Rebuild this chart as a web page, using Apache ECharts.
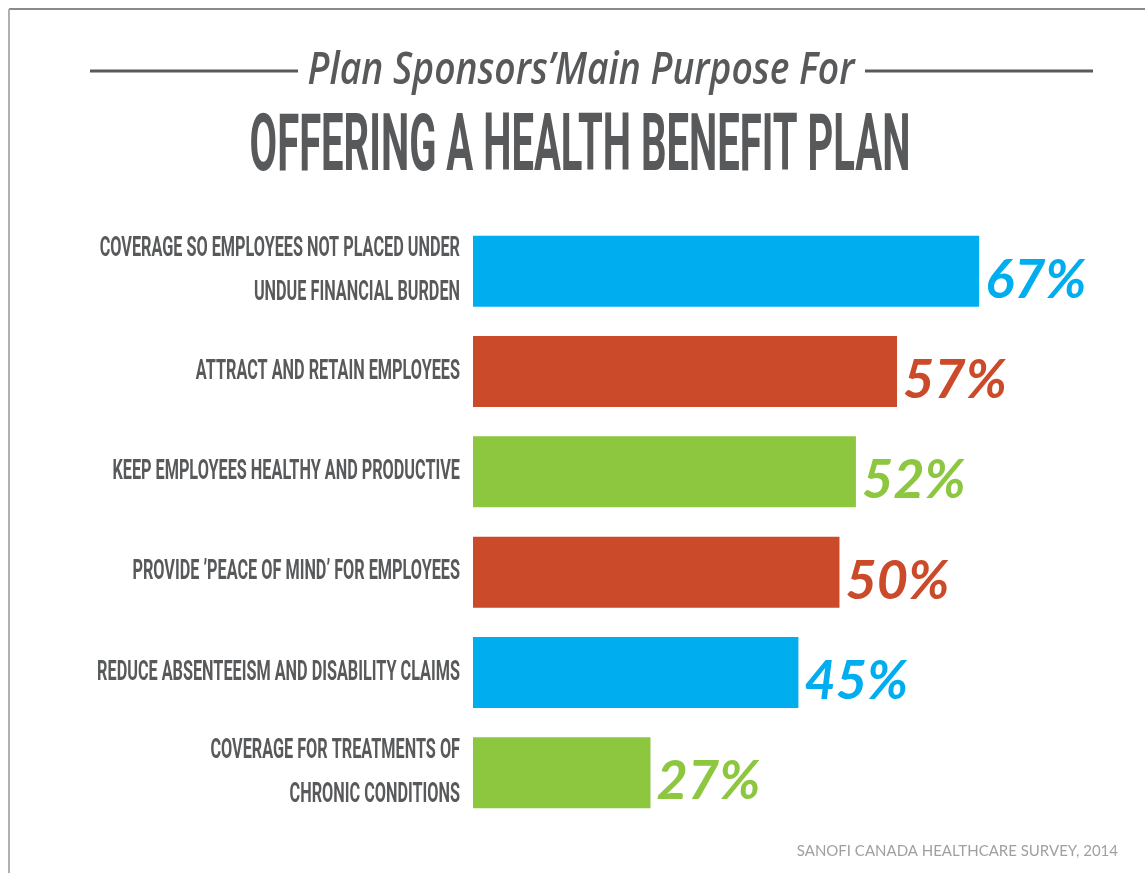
<!DOCTYPE html>
<html>
<head>
<meta charset="utf-8">
<script src="https://cdn.jsdelivr.net/npm/echarts@6/dist/echarts.min.js"></script>
<style>
html,body{margin:0;padding:0;background:#fff;}
#chart{width:1145px;height:873px;}
</style>
</head>
<body>
<div id="chart"></div>
<script>
const categories = [
  "COVERAGE SO EMPLOYEES NOT PLACED UNDER\nUNDUE FINANCIAL BURDEN",
  "ATTRACT AND RETAIN EMPLOYEES",
  "KEEP EMPLOYEES HEALTHY AND PRODUCTIVE",
  "PROVIDE \u2019PEACE OF MIND\u2019 FOR EMPLOYEES",
  "REDUCE ABSENTEEISM AND DISABILITY CLAIMS",
  "COVERAGE FOR TREATMENTS OF\nCHRONIC CONDITIONS"
];
const values = [67, 57, 52, 50, 45, 27];
const barColors = ["#00aeef", "#cb4a2a", "#8dc63f", "#cb4a2a", "#00aeef", "#8dc63f"];
const subtitleText = "Plan Sponsors\u2019Main Purpose For";
const titleText = "OFFERING A HEALTH BENEFIT PLAN";
const sourceText = "SANOFI CANADA HEALTHCARE SURVEY, 2014";

const AXIS_MIN = 5.4;
const AXIS_MAX = 80;
const GRAY = "#58595b";

const chart = echarts.init(document.getElementById('chart'), null, {renderer: 'canvas'});

const option = {
  backgroundColor: '#ffffff',
  animation: false,
  grid: {left: 473, top: 221, height: 602, width: 613, containLabel: false, outerBoundsMode: 'none'},
  xAxis: {
    type: 'value', min: AXIS_MIN, max: AXIS_MAX, show: false,
    splitLine: {show: false}
  },
  yAxis: {
    type: 'category', data: categories, inverse: true,
    axisLine: {show: false}, axisTick: {show: false}, axisLabel: {show: false}, splitLine: {show: false}
  },
  series: [
    {
      type: 'bar',
      barWidth: 71,
      data: values.map((v, i) => ({
        value: v,
        itemStyle: {color: barColors[i]},
        label: {color: barColors[i]}
      })),
      label: {
        show: true,
        position: 'right',
        distance: 6,
        offset: [0, 9],
        formatter: '{c}%',
        fontFamily: 'Lato',
        fontStyle: 'italic',
        fontWeight: 'bold',
        fontSize: 54
      }
    },
    {
      type: 'custom',
      clip: false,
      silent: true,
      data: categories.map((c, i) => [AXIS_MIN, i]),
      renderItem: function (params, api) {
        const p = api.coord([api.value(0), api.value(1)]);
        return {
          type: 'text',
          x: p[0] - 13,
          y: p[1],
          scaleX: 0.58,
          style: {
            text: categories[params.dataIndex],
            x: 0, y: 0,
            align: 'right',
            verticalAlign: 'middle',
            lineHeight: 44,
            font: 'bold 28px Roboto',
            fill: GRAY
          }
        };
      }
    }
  ],
  graphic: [
    {type: 'line', shape: {x1: 9, y1: 9, x2: 1145, y2: 9}, style: {stroke: '#8a8a8a', lineWidth: 2}},
    {type: 'line', shape: {x1: 9, y1: 9, x2: 9, y2: 873}, style: {stroke: '#b0b0b0', lineWidth: 2}},
    {type: 'line', shape: {x1: 90, y1: 71, x2: 298, y2: 71}, style: {stroke: GRAY, lineWidth: 3}},
    {type: 'line', shape: {x1: 865, y1: 71, x2: 1093, y2: 71}, style: {stroke: GRAY, lineWidth: 3}},
    {
      type: 'text', x: 581, y: 71, scaleX: 0.81,
      style: {text: subtitleText, align: 'center', verticalAlign: 'middle',
        font: 'italic 600 46px "Open Sans"', fill: GRAY}
    },
    {
      type: 'text', x: 580, y: 150, scaleX: 0.5,
      style: {text: titleText, align: 'center', verticalAlign: 'middle',
        font: 'bold 80px Roboto', fill: GRAY}
    },
    {
      type: 'text', x: 1118, y: 851,
      style: {text: sourceText, align: 'right', verticalAlign: 'middle',
        font: '15px Lato', fill: '#a0a0a0'}
    }
  ]
};
chart.setOption(option);
</script>
</body>
</html>
